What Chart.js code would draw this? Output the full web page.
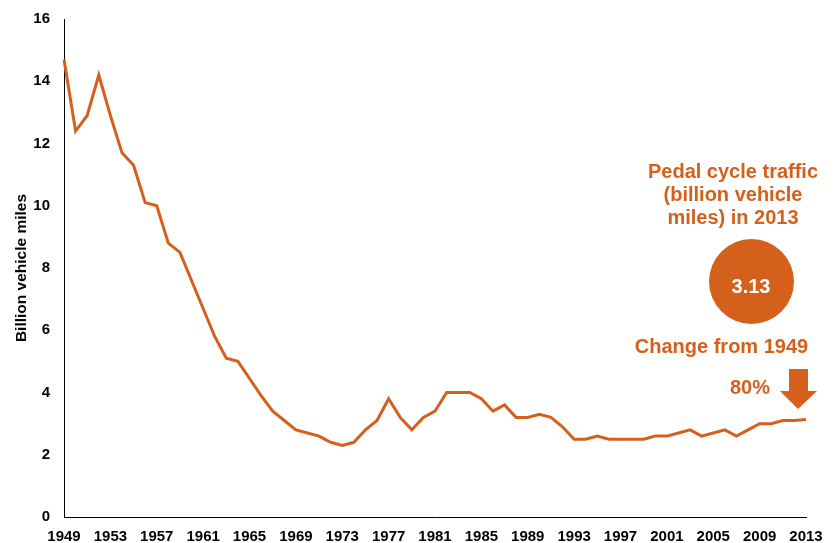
<!DOCTYPE html>
<html>
<head>
<meta charset="utf-8">
<script src="https://cdn.jsdelivr.net/npm/chart.js@4.4.0/dist/chart.umd.min.js"></script>
<style>
html,body{margin:0;padding:0;background:#fff;}
#wrap{width:837px;height:543px;position:relative;}
</style>
</head>
<body>
<div id="wrap"><canvas id="c" width="837" height="543"></canvas></div>
<script>
const years = [];
for (let y = 1949; y <= 2013; y++) years.push(String(y));
const traffic = [
  14.7, 12.4, 12.9, 14.2, 12.9, 11.7, 11.3, 10.1, 10.0, 8.8,
  8.5, 7.6, 6.7, 5.8, 5.1, 5.0, 4.45, 3.9, 3.4, 3.1,
  2.8, 2.7, 2.6, 2.4, 2.3, 2.4, 2.8, 3.1, 3.8, 3.2,
  2.8, 3.2, 3.4, 4.0, 4.0, 4.0, 3.8, 3.4, 3.6, 3.2,
  3.2, 3.3, 3.2, 2.9, 2.5, 2.5, 2.6, 2.5, 2.5, 2.5,
  2.5, 2.6, 2.6, 2.7, 2.8, 2.6, 2.7, 2.8, 2.6, 2.8,
  3.0, 3.0, 3.1, 3.1, 3.13
];
const yTicks = [0, 2, 4, 6, 8, 10, 12, 14, 16];
const titleLines = ["Pedal cycle traffic", "(billion vehicle", "miles) in 2013"];
const valueLabel = "3.13";
const changeLabel = "Change from 1949";
const changeValue = "80%";

const ORANGE = '#D5601B';
const FONT = '"Liberation Sans", Arial, sans-serif';

const annot = {
  id: 'annot',
  afterDraw(chart) {
    const ctx = chart.ctx;
    ctx.save();
    ctx.fillStyle = ORANGE;
    ctx.textAlign = 'center';
    ctx.textBaseline = 'alphabetic';
    ctx.font = 'bold 20px ' + FONT;
    titleLines.forEach((t, i) => ctx.fillText(t, 733, 178 + i * 23));
    ctx.beginPath();
    ctx.arc(751.5, 281.5, 42.5, 0, Math.PI * 2);
    ctx.fill();
    ctx.fillStyle = '#fff';
    ctx.fillText(valueLabel, 751, 293);
    ctx.fillStyle = ORANGE;
    ctx.fillText(changeLabel, 721.5, 353);
    ctx.fillText(changeValue, 750, 394);
    ctx.beginPath();
    ctx.moveTo(789, 369);
    ctx.lineTo(808, 369);
    ctx.lineTo(808, 391);
    ctx.lineTo(817, 391);
    ctx.lineTo(798, 409);
    ctx.lineTo(780, 391);
    ctx.lineTo(789, 391);
    ctx.closePath();
    ctx.fill();
    ctx.restore();
  }
};

new Chart(document.getElementById('c'), {
  type: 'line',
  data: {
    labels: years,
    datasets: [{
      data: traffic,
      borderColor: ORANGE,
      borderWidth: 3,
      pointRadius: 0,
      fill: false,
      tension: 0
    }]
  },
  options: {
    responsive: false,
    animation: false,
    layout: { padding: { top: 19, right: 31, left: 0, bottom: 0 } },
    plugins: { legend: { display: false }, tooltip: { enabled: false } },
    scales: {
      x: {
        offset: false,
        grid: { display: false, drawTicks: false },
        border: { color: '#000', width: 1 },
        ticks: {
          autoSkip: false,
          maxRotation: 0,
          padding: 11,
          color: '#000',
          font: { family: FONT, size: 15, weight: 'bold' },
          callback: function (v, i) { return (i % 4 === 0) ? years[i] : null; }
        },
        afterFit: s => { s.height = 26; s.paddingLeft = 0; s.paddingRight = 0; }
      },
      y: {
        min: 0, max: 16,
        afterBuildTicks: s => { s.ticks = yTicks.map(v => ({ value: v })); },
        grid: { display: false, drawTicks: false },
        border: { color: '#000', width: 1 },
        ticks: {
          padding: 14,
          color: '#000',
          font: { family: FONT, size: 15, weight: 'bold' }
        },
        title: {
          display: true,
          text: 'Billion vehicle miles',
          color: '#000',
          padding: { top: 12, bottom: 0 },
          font: { family: FONT, size: 15.5, weight: 'bold' }
        },
        afterFit: s => { s.width = 64; s.paddingTop = 0; s.paddingBottom = 0; }
      }
    }
  },
  plugins: [annot]
});
</script>
</body>
</html>
